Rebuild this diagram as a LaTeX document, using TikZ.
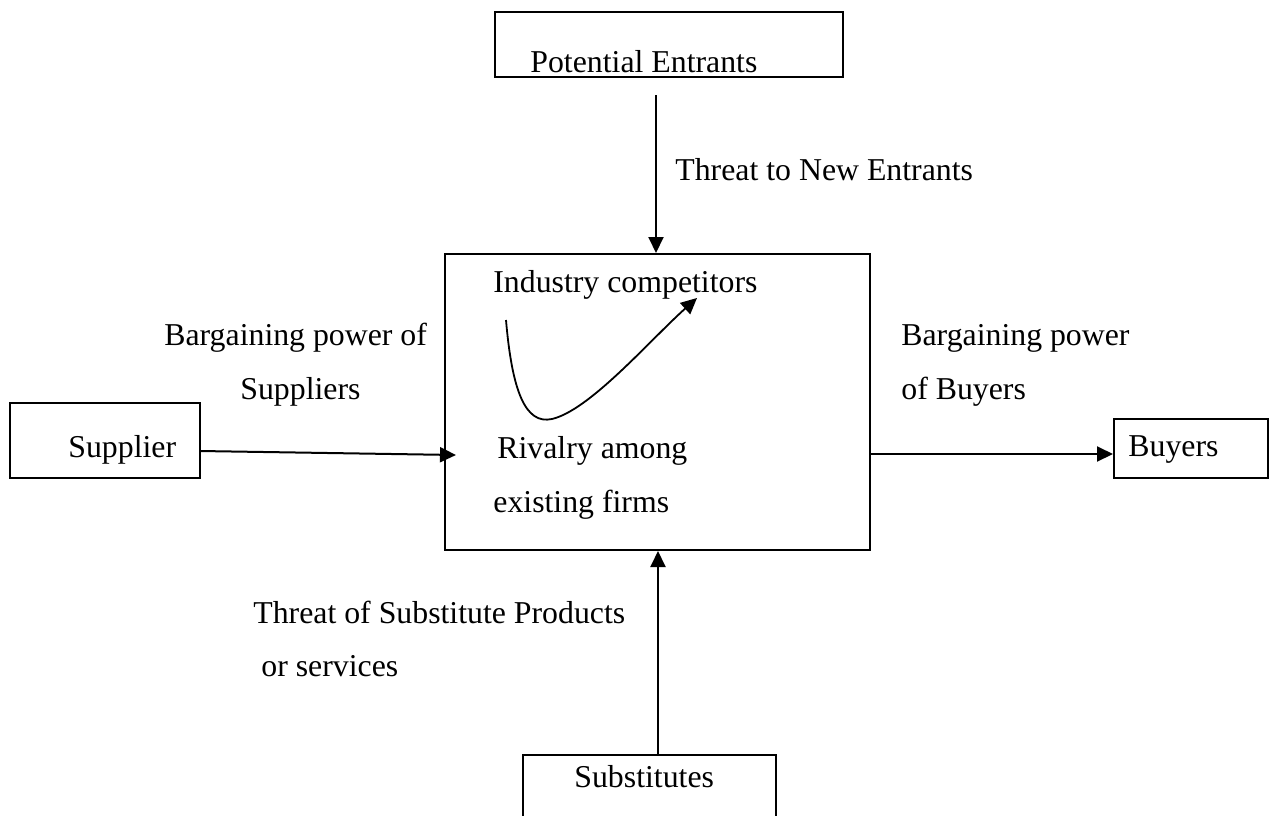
\documentclass[tikz,border=0pt]{standalone}
\usepackage{fontspec}
\setmainfont{Liberation Serif}
\usetikzlibrary{fit,arrows.meta}
\begin{document}
\begin{tikzpicture}[x=0.5pt,y=-0.5pt,
  box/.style={draw,line width=1pt,inner sep=0pt},
  txt/.style={anchor=base west,inner sep=0pt,font=\fontsize{15.9}{19}\selectfont},
  arr/.style={line width=1pt,-{Triangle[length=8pt,width=7.5pt]}},
  curvearr/.style={line width=0.9pt,-{Triangle[length=8pt,width=7.5pt]}}]
\useasboundingbox (0,0) rectangle (1270,815);
\clip (0,0) rectangle (1270,815);
% boxes
\node[box,fit={(495,12) (843,77)}] (pe) {};
\node[box,fit={(445,254) (870,550)}] (main) {};
\node[box,fit={(10,403) (200,478)}] (sup) {};
\node[box,fit={(1114,419) (1268,478)}] (buy) {};
\node[box,fit={(523,755) (776,840)}] (sub) {};
% texts
\node[txt] (tpe) at (530,72) {Potential Entrants};
\node[txt] (tne) at (675,180) {Threat to New Entrants};
\node[txt] (tic) at (493,292) {Industry competitors};
\node[txt] (tra) at (497,458) {Rivalry among};
\node[txt] (tef) at (493,512) {existing firms};
\node[txt] (tbs1) at (164,345) {Bargaining power of};
\node[txt] (tbs2) at (240,399) {Suppliers};
\node[txt] (tbb1) at (901,345) {Bargaining power};
\node[txt] (tbb2) at (901,399) {of Buyers};
\node[txt] (tsup) at (68,457) {Supplier};
\node[txt] (tbuy) at (1128,456) {Buyers};
\node[txt] (tts1) at (253,623) {Threat of Substitute Products};
\node[txt] (tts2) at (261,676) {or services};
\node[txt] (tsub) at (574,787) {Substitutes};
% connectors
\coordinate (peout) at (656,95);
\draw[arr] (peout) -- (peout |- main.north);
\coordinate (supout) at (200,451);
\coordinate (mainin) at (456,455);
\draw[arr] (supout) -- (mainin);
\coordinate (mainout) at (870,454);
\draw[arr] (mainout) -- (mainout -| buy.west);
\coordinate (subout) at (658,755);
\draw[arr] (subout) -- (subout |- main.south);
% rivalry curve
\coordinate (cs) at (506,320);
\coordinate (cm) at (552,419);
\coordinate (ce) at (697,298);
\draw[curvearr] (cs) .. controls (512,390) and (525,425) .. (cm)
  .. controls (590,410) and (650,340) .. (ce);
\end{tikzpicture}
\end{document}
